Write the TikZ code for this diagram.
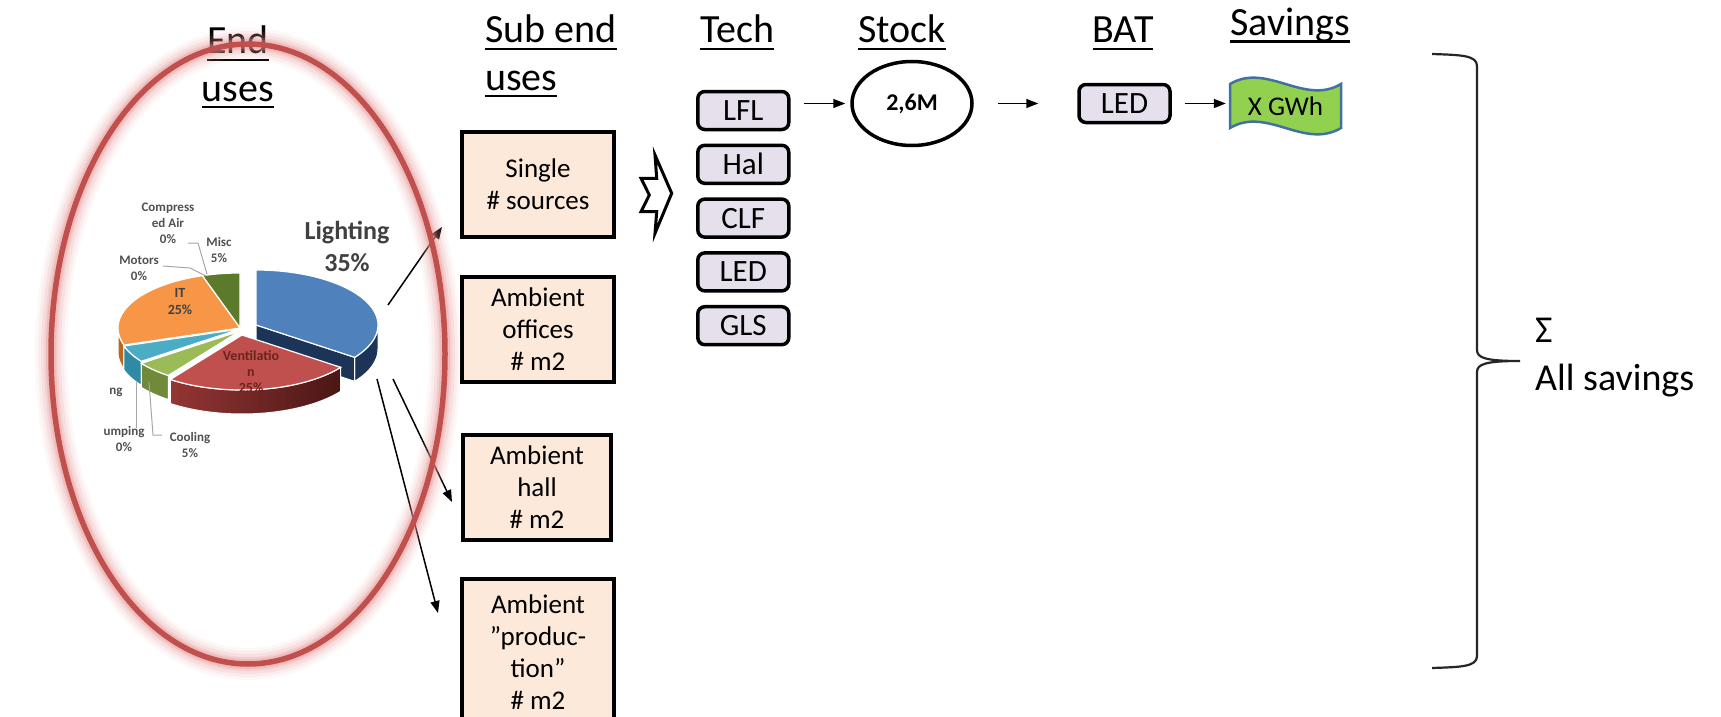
\documentclass[tikz,border=0pt]{standalone}
\usepackage{fontspec}
\setmainfont{Carlito}
\usetikzlibrary{arrows.meta,shapes.geometric,calc}

\definecolor{peach}{HTML}{FDE9D9}
\definecolor{lav}{HTML}{E5E0EC}
\definecolor{flaggreen}{HTML}{92D050}
\definecolor{flagblue}{HTML}{41719C}
\definecolor{ringred}{HTML}{C0504D}
\definecolor{glowred}{HTML}{E58F8F}
\definecolor{ltop}{HTML}{4F81BD}
\definecolor{lside}{HTML}{1C3458}
\definecolor{vtop}{HTML}{C0504D}
\definecolor{vsideA}{HTML}{943634}
\definecolor{vsideB}{HTML}{4A1615}
\definecolor{ctop}{HTML}{9BBB59}
\definecolor{cside}{HTML}{71893A}
\definecolor{htop}{HTML}{4BACC6}
\definecolor{hside}{HTML}{2F8AA3}
\definecolor{itop}{HTML}{F79646}
\definecolor{iside}{HTML}{C0651E}
\definecolor{mtop}{HTML}{5B7A2C}
\definecolor{lbl}{HTML}{505050}
\definecolor{venlbl}{HTML}{6B2321}
\definecolor{lead}{HTML}{A6A6A6}

% heading text with an underline at a fixed depth
\newcommand\ulh[1]{\setbox0\hbox{#1}\rlap{\copy0}\rule[-7pt]{\wd0}{2.5pt}}

% top face and visible rim of a pie slice (angles clockwise from 12 o'clock)
\newcommand\pietop[4]{\path[#4,draw=white,line width=1.2pt,shift={#3}] (240,328) -- plot[domain=#1:#2,samples=40,variable=\t] ({240+122*sin(\t)},{328-55*cos(\t)}) -- cycle;}
\newcommand\pieside[4]{\path[#4,draw=white,line width=1pt,shift={#3}] plot[domain=#1:#2,samples=30,variable=\t] ({240+122*sin(\t)},{328-55*cos(\t)}) -- plot[domain=#2:#1,samples=30,variable=\t] ({240+122*sin(\t)},{352-55*cos(\t)}) -- cycle;}

\begin{document}
\begin{tikzpicture}[x=1pt,y=-1pt,
  hd/.style={font=\fontsize{40}{47}\selectfont,inner sep=0},
  subbox/.style={draw,line width=4pt,fill=peach,minimum width=152pt,minimum height=105pt,
    align=center,font=\fontsize{27}{32}\selectfont,inner sep=0},
  techbox/.style={draw,line width=3.5pt,rounded corners=7pt,fill=lav,minimum width=91pt,
    minimum height=38pt,font=\fontsize{31}{36}\selectfont,inner sep=0},
  pl/.style={font=\bfseries\fontsize{13}{16}\selectfont,text=lbl,align=center,inner sep=0},
  arr/.style={line width=1.5pt,-{Triangle[length=12pt,width=9pt]}},
  leader/.style={draw=lead,line width=1pt}]
\useasboundingbox (0,0) rectangle (1721,717);

% ---------- headings ----------
\node[hd,anchor=base] (hend) at (238,54) {\ulh{End}};
\node[hd,anchor=base] (hend2) at (238,101) {\ulh{uses}};
\node[hd,anchor=base west] (hsub) at (485,43) {\ulh{Sub end}};
\node[hd,anchor=base west] (hsub2) at (485,90) {\ulh{uses}};
\node[hd,anchor=base west] (htech) at (700,43) {\ulh{Tech}};
\node[hd,anchor=base] (hstock) at (902,43) {\ulh{Stock}};
\node[hd,anchor=base] (hbat) at (1123,43) {\ulh{BAT}};
\node[hd,anchor=base] (hsav) at (1290,36) {\ulh{Savings}};

% ---------- 3D pie of end uses ----------
% Misc
\pietop{342}{360}{(0,0)}{fill=mtop}
% IT
\pieside{252}{270}{(0,0)}{fill=iside}
\pietop{252}{342}{(0,0)}{fill=itop}
% Lighting (pulled out)
\pieside{90}{126}{(16,-3)}{fill=lside}
\path[fill=lside,draw=white,line width=1pt,shift={(16,-3)}] (240,328) -- ({240+122*sin(126)},{328-55*cos(126)}) -- ++(0,24) -- (240,352) -- cycle;
\pietop{0}{126}{(16,-3)}{fill=ltop}
% light blue slice
\pieside{234}{252}{(0,1)}{fill=hside}
\pietop{234}{252}{(0,1)}{fill=htop}
% Cooling
\pieside{216}{234}{(0,3)}{fill=cside}
\pietop{216}{234}{(0,3)}{fill=ctop}
% Ventilation
\pieside{126}{216}{(2,7)}{left color=vsideA,right color=vsideB}
\pietop{126}{216}{(2,7)}{fill=vtop}

% leader lines
\draw[leader] (188,243) -- (198,243) -- (207,274);
\draw[leader] (163,266) -- (190,268) -- (206,276);
\draw[leader] (136,382) -- (136,428);
\draw[leader] (162,435) -- (153,435) -- (149,382);

% slice labels
\node[pl] (lcmp) at (168,223) {Compress\\ed Air\\0\%};
\node[pl] (lmisc) at (219,250) {Misc\\5\%};
\node[pl] (lmot) at (139,268) {Motors\\0\%};
\node[pl,font=\bfseries\fontsize{14}{17}\selectfont,text=black!75] (lit) at (180,301.5) {IT\\25\%};
\node[pl,font=\bfseries\fontsize{26}{32}\selectfont,text=black!75] (llig) at (347,246) {Lighting\\35\%};
\node[pl,font=\bfseries\fontsize{14}{16}\selectfont,text=venlbl] (lven) at (251,372) {Ventilatio\\n\\25\%};
\node[pl] (lng) at (116,392) {ng};
\node[pl] (lpump) at (124,439) {umping\\0\%};
\node[pl] (lcool) at (190,445) {Cooling\\5\%};

% ---------- sub end uses ----------
\node[subbox] (s1) at (538,184.5) {Single\\\# sources};
\node[subbox] (s2) at (538,329) {Ambient\\offices\\\# m2};
\node[subbox,minimum width=148pt] (s3) at (537,487.5) {Ambient\\hall\\\# m2};
\node[subbox,minimum height=146pt] (s4) at (538,652) {Ambient\\”produc-\\tion”\\\# m2};

% arrows from the lighting slice
\coordinate (p1) at (388,305); \coordinate (q1) at (442,227);
\coordinate (p2) at (393,379); \coordinate (q2) at (452,502);
\coordinate (p3) at (377,379); \coordinate (q3) at (438,613);
\draw[arr] (p1) -- (q1);
\draw[arr] (p2) -- (q2);
\draw[arr] (p3) -- (q3);

% notched block arrow
\draw[line width=3pt,fill=white,line join=miter]
  (649.3,195) -- (641,178.3) -- (656.7,178.3) -- (655,155) -- (671.7,193.3)
  -- (655,233.3) -- (656.7,211.7) -- (641,211.7) -- cycle;

% ---------- technologies ----------
\node[techbox] (t1) at (743.3,110.5) {LFL};
\node[techbox] (t2) at (743.3,164.3) {Hal};
\node[techbox] (t3) at (743.3,218.1) {CLF};
\node[techbox] (t4) at (743.3,271.9) {LED};
\node[techbox] (t5) at (743.3,325.7) {GLS};

% ---------- stock, BAT, savings ----------
\node[draw,ellipse,line width=3.5pt,minimum width=120pt,minimum height=84pt,
  font=\bfseries\fontsize{24}{28}\selectfont,inner sep=0] (stock) at (912,103.5) {2,6M};
\node[techbox] (bat) at (1124.5,103.5) {LED};

\path[fill=flaggreen,draw=flagblue,line width=2.5pt]
  (1230,84) .. controls (1267,62) and (1304,106) .. (1341,84)
  -- (1341,128) .. controls (1304,150) and (1267,106) .. (1230,128) -- cycle;
\node[minimum width=111pt,minimum height=44pt,inner sep=0,font=\fontsize{27}{32}\selectfont]
  (flag) at (1285.5,106) {X GWh};

\draw[arr,shorten <=13.5pt,shorten >=5pt] (t1.east |- stock.west) -- (stock.west);
\draw[arr,shorten <=24pt,shorten >=39pt,yshift=6.5pt] (stock.east) -- (stock.east -| bat.west);
\draw[arr,shorten <=13pt,shorten >=4pt,yshift=-3.5pt] (bat.east) -- (bat.east -| flag.west);

% ---------- brace and total ----------
\draw[line width=2.2pt,black!85]
  (1432,54) .. controls (1460,55) and (1477,55) .. (1477,66) -- (1477,350)
  .. controls (1477,358) and (1486,361) .. (1520,361)
  .. controls (1486,361) and (1477,364) .. (1477,372) -- (1477,656)
  .. controls (1477,667) and (1460,667) .. (1432,668);
\node[anchor=base west,inner sep=0,font=\fontsize{38}{46}\selectfont] (sigma) at (1535,342) {Σ};
\node[anchor=base west,inner sep=0,font=\fontsize{38}{46}\selectfont] (total) at (1535,390) {All savings};

% ---------- glowing ring round the end uses ----------
\foreach \w/\o in {32/0.07,26/0.1,20/0.14,14/0.2,10/0.3}{
  \draw[glowred,line width=\w pt,opacity=\o] (248,354) ellipse [x radius=197pt,y radius=310pt];
}
\draw[ringred,line width=5.5pt] (248,354) ellipse [x radius=197pt,y radius=310pt];
\end{tikzpicture}
\end{document}
